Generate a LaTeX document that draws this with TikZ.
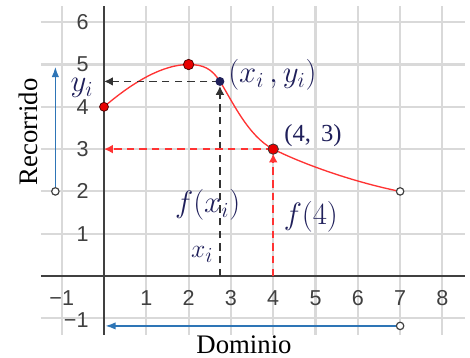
\documentclass[tikz,border=0pt]{standalone}
\usepackage{fontspec}
\setmainfont{Liberation Serif}
\newfontfamily\ticksans{Liberation Sans}
\usetikzlibrary{arrows.meta}
\definecolor{gridgray}{HTML}{D9D9D9}
\definecolor{axisgray}{HTML}{404040}
\definecolor{curvered}{HTML}{FF3333}
\definecolor{dotred}{HTML}{E80000}
\definecolor{arrowblue}{HTML}{2E75B6}
\definecolor{navy}{HTML}{1F1F5A}
\begin{document}
\begin{tikzpicture}[x=1cm,y=1cm,
  gridline/.style={gridgray,line width=1.4pt},
  axisline/.style={axisgray,line width=0.9pt},
  ticklab/.style={text=axisgray,font=\ticksans\fontsize{14.5}{16}\selectfont,inner sep=0pt},
  curveline/.style={curvered,line width=0.9pt},
  blackdash/.style={black!80,line width=1.2pt,dash pattern=on 5pt off 3.5pt,-{Latex[length=6pt,width=6pt]}},
  reddash/.style={curvered,line width=1.1pt,dash pattern=on 5pt off 3.5pt,-{Latex[length=6pt,width=6pt]}},
  bluearrow/.style={arrowblue,line width=1.1pt,-{Latex[length=7pt,width=5pt]}},
  reddot/.style={circle,fill=dotred,draw=black!70!red,line width=0.5pt,minimum size=6pt,inner sep=0pt},
  navydot/.style={circle,fill=navy,minimum size=6pt,inner sep=0pt},
  opencirc/.style={circle,draw=axisgray,fill=white,line width=0.8pt,minimum size=5pt,inner sep=0pt},
  mathlab/.style={text=navy,font=\fontsize{21}{23}\selectfont,inner sep=0pt},
  wordlab/.style={text=black,font=\fontsize{18}{20}\selectfont,inner sep=0pt}]
\useasboundingbox (-2.459,-1.938) rectangle (8.652,6.525);
\fill[white] (-2.459,-1.938) rectangle (8.652,6.525);
% grid
\foreach \x in {-1,...,8} \draw[gridline] (\x,-1.39) -- (\x,6.38);
\foreach \y in {-1,...,6} \draw[gridline] (-1.49,\y) -- (8.53,\y);
% axes
\draw[axisline] (-1.49,0) -- (8.53,0);
\draw[axisline] (0,-1.39) -- (0,6.38);
% tick labels
\node[ticklab] (xlm1) at (-1,-0.52) {−1};
\foreach \x in {1,...,8} \node[ticklab] (xl\x) at (\x,-0.52) {\x};
\foreach \y in {1,...,6} \node[ticklab,anchor=east] (yl\y) at (-0.36,\y) {\y};
\node[ticklab,anchor=east] (ylm1) at (-0.36,-1.04) {−1};
% key points
\coordinate (A) at (0,4);
\coordinate (M) at (2,5);
\coordinate (P) at (2.74,4.6);
\coordinate (Q) at (4,3);
\coordinate (E) at (7,2);
\coordinate (Px) at (2.74,0);
\coordinate (Py) at (0,4.6);
\coordinate (Qx) at (4,0);
\coordinate (Qy) at (0,3);
% curve
\draw[curveline] (A) .. controls (0.7,4.6) and (1.4,5.0) .. (M)
  .. controls (2.35,5.0) and (2.55,4.9) .. (P)
  .. controls (3.0,4.2) and (3.4,3.3) .. (Q)
  .. controls (4.8,2.6) and (6.0,2.2) .. (E);
% dashed guides
\draw[blackdash] (Px) -- ([yshift=-3pt]P);
\draw[blackdash] (P) -- (Py);
\draw[reddash] (Qx) -- ([yshift=-3pt]Q);
\draw[reddash] (Q) -- (Qy);
% dots
\node[reddot] (dA) at (A) {};
\node[reddot,minimum size=7pt] (dM) at (M) {};
\node[reddot,minimum size=7pt,draw=black!80] (dQ) at (Q) {};
\node[navydot] (dP) at (P) {};
\node[opencirc] (dE) at (E) {};
% domain / range arrows
\coordinate (R1) at (-1.15,4.95);
\coordinate (D1) at (0.03,-1.18);
\node[opencirc] (R0) at (-1.15,2) {};
\node[opencirc] (D0) at (7,-1.18) {};
\draw[bluearrow] (R0) -- (R1);
\draw[bluearrow] (D0) -- (D1);
% labels
\node[wordlab,rotate=90] (rec) at (-1.8,3.41) {Recorrido};
\node[wordlab] (dom) at (3.31,-1.63) {Dominio};
\node[mathlab,font=\fontsize{20}{22}\selectfont] (lP) at (3.98,4.75) {$\bigl(x_i\,,y_i\bigr)$};
\node[mathlab,font=\fontsize{16.5}{18}\selectfont] (lQ) at (4.94,3.33) {(4,\, 3)};
\node[mathlab,font=\fontsize{20}{22}\selectfont] (lfx) at (2.45,1.68) {$f(x_i)$};
\node[mathlab,font=\fontsize{21.5}{23}\selectfont] (lf4) at (4.89,1.40) {$f(4)$};
\node[mathlab,font=\fontsize{19}{21}\selectfont] (lx) at (2.32,0.50) {$x_i$};
\node[mathlab,font=\fontsize{20}{22}\selectfont] (ly) at (-0.52,4.44) {$y_i$};
\end{tikzpicture}
\end{document}
